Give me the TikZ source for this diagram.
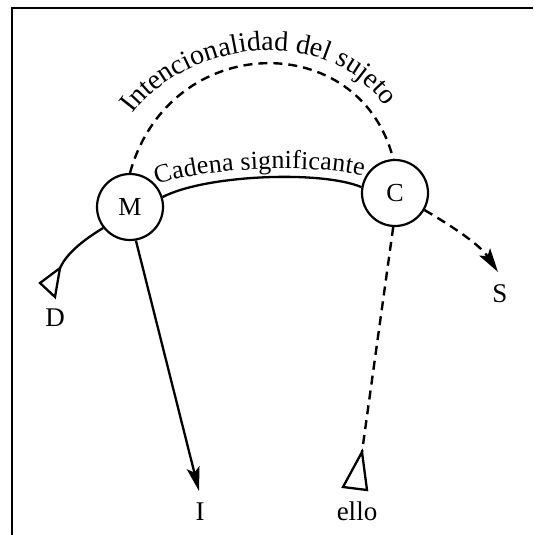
\documentclass[tikz,border=0pt]{standalone}
\usepackage{fontspec}
\setmainfont{Liberation Serif}
\usetikzlibrary{arrows.meta,decorations.text}
\begin{document}
\begin{tikzpicture}[x=1pt,y=-1pt,
  circ/.style={circle,draw,line width=2.2pt,minimum size=66pt,inner sep=0pt,font=\fontsize{26}{26}\selectfont},
  lbl/.style={anchor=base,inner sep=0pt,font=\fontsize{27}{27}\selectfont},
  conn/.style={line width=2.3pt},
  dashconn/.style={line width=2.4pt,dash pattern=on 9pt off 6pt},
  arrowtip/.style={-{Stealth[length=24pt,width=13pt,inset=5pt]}},
  tri/.style={line width=2.3pt,line join=miter}
]
\useasboundingbox (0,0) rectangle (533,535);
% frame
\draw[line width=1.6pt] (12,535) -- (12,8) -- (533,8);

\node[circ] (M) at (130,207) {M};
\node[circ] (C) at (395,193) {C};

% Intencionalidad del sujeto
\draw[dashconn] (M.90) .. controls (170,30) and (360,28) .. (C.93);
\path[decorate,decoration={text along path,text align=fit to path,
  text={|\fontsize{28}{28}\selectfont|Intencionalidad del sujeto}}]
  (133,114) .. controls (183,45) and (322,18) .. (385,106);

% Cadena significante
\draw[conn] (M.17) .. controls (205,175) and (320,170) .. (C.170);
\path[decorate,decoration={text along path,text align=fit to path,
  text={|\fontsize{26}{26}\selectfont|Cadena significante}}]
  (157,185) .. controls (200,167) and (320,164) .. (363,176);

% D
\coordinate (dtip) at (60,268);
\draw[conn] (M.218) .. controls (80,242) and (66,255) .. (dtip);
\draw[tri] (dtip) -- (40,283) -- (55,297) -- cycle;
\node[lbl] (D) at (55,326) {D};

% I
\node[lbl] (I) at (200,520) {I};
\coordinate (itip) at (199,491);
\draw[conn,arrowtip] (M.280) -- (itip);

% ello
\coordinate (etip) at (362,452);
\draw[dashconn] (C.267) -- (etip);
\draw[tri] (etip) -- (343,487) -- (367,490) -- cycle;
\node[lbl] (ello) at (357,520) {ello};

% S
\coordinate (stip) at (498,272);
\draw[dashconn,arrowtip] (C.330) .. controls (455,228) and (480,245) .. (stip);
\node[lbl] (S) at (500,302) {S};
\end{tikzpicture}
\end{document}
